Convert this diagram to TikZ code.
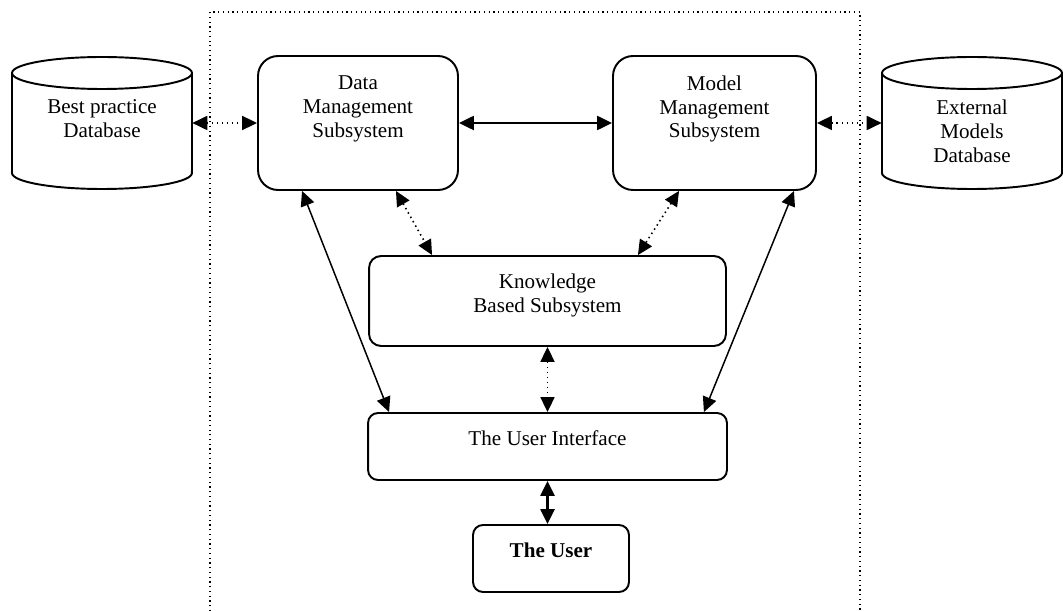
\documentclass[tikz,border=0pt]{standalone}
\usepackage{fontspec}
\setmainfont{Liberation Serif}
\usetikzlibrary{arrows.meta}

\begin{document}
\begin{tikzpicture}[x=0.02cm, y=-0.02cm,
  box/.style={draw, line width=1.1pt, inner sep=0pt},
  txt/.style={align=center, inner sep=0pt, font=\fontsize{12}{13.6}\selectfont},
  db/.style={inner sep=0pt, minimum width=3.6cm, minimum height=2.6cm},
  link/.style={{Triangle[length=8.5pt,width=8pt]}-{Triangle[length=8.5pt,width=8pt]}, line width=0.85pt},
  dlink/.style={link, dotted, line width=0.9pt}]
\useasboundingbox (0,0) rectangle (1063,611);

% system boundary
\draw[dotted, line width=0.7pt] (210,611) -- (210,12) -- (860,12) -- (860,611);

% databases
\draw[line width=1.1pt] (102,73) ellipse [x radius=1.8cm, y radius=0.32cm];
\draw[line width=1.1pt] (12,73) -- (12,173) arc[start angle=180, end angle=360, x radius=1.8cm, y radius=0.32cm] -- (192,73);
\draw[line width=1.1pt] (972,73) ellipse [x radius=1.8cm, y radius=0.32cm];
\draw[line width=1.1pt] (882,73) -- (882,173) arc[start angle=180, end angle=360, x radius=1.8cm, y radius=0.32cm] -- (1062,73);
\node[db] (bp) at (102,123) {};
\node[txt] (bptext) at (102,119) {Best practice\\Database};
\node[db] (em) at (972,123) {};
\node[txt] (emtext) at (972,131) {External\\Models\\Database};

% subsystems
\node[box, rounded corners=0.4cm, minimum width=4cm, minimum height=2.68cm] (dm) at (358,123) {};
\node[txt] (dmtext) at (358,109) {Data\\Management\\Subsystem};
\node[box, rounded corners=0.4cm, minimum width=4.06cm, minimum height=2.68cm] (mm) at (714.5,123) {};
\node[txt] (mmtext) at (714.5,109) {Model\\Management\\Subsystem};
\node[box, rounded corners=0.24cm, minimum width=7.14cm, minimum height=1.8cm] (kb) at (547.5,301) {};
\node[txt] (kbtext) at (547.5,295.5) {Knowledge\\Based Subsystem};
\node[box, rounded corners=0.2cm, minimum width=7.18cm, minimum height=1.34cm] (ui) at (547.5,446.5) {};
\node[txt] (uitext) at (547.5,438) {The User Interface};
\node[box, rounded corners=0.2cm, minimum width=3.12cm, minimum height=1.34cm] (usr) at (551,558.5) {};
\node[txt] (usrtext) at (551,550) {\textbf{The User}};

\draw[dlink] (bp.east) to (dm.west);
\draw[link, line width=1.1pt] (dm.east) to (mm.west);
\draw[dlink] (mm.east) to (em.west);
\draw[link] ([xshift=0.9cm]dm.south west) to ([xshift=0.44cm]ui.north west);
\draw[dlink] ([xshift=-1.26cm]dm.south east) to ([xshift=1.28cm]kb.north west);
\draw[dlink] ([xshift=1.34cm]mm.south west) to ([xshift=-1.78cm]kb.north east);
\draw[link] ([xshift=-0.46cm]mm.south east) to ([xshift=-0.48cm]ui.north east);
\draw[dlink] (kb.south) to (ui.north);
\draw[link, line width=1.2pt] (ui.south) to (ui.south |- usr.north);
\end{tikzpicture}
\end{document}
